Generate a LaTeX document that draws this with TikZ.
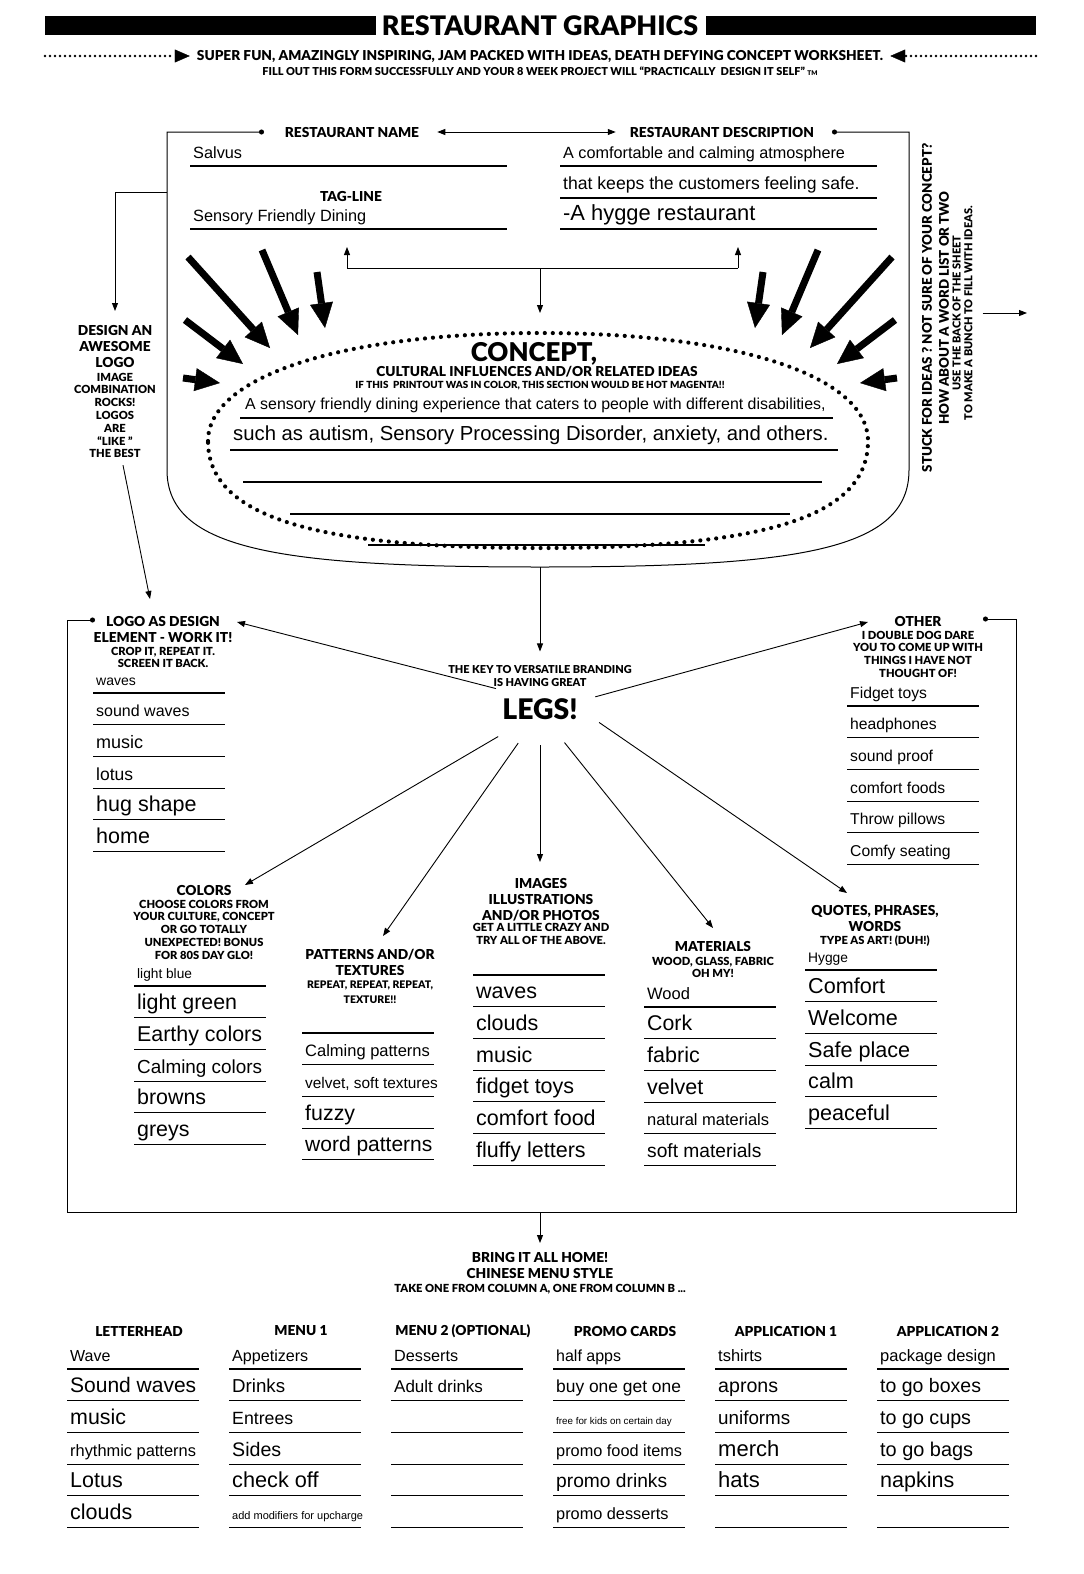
\documentclass[tikz,border=0pt]{standalone}
\usepackage{fontspec}
\setmainfont{Liberation Sans}
\newfontfamily\hdfont{Lato}[BoldFont={Lato Black},Scale=0.995]
\usetikzlibrary{arrows.meta,positioning,shapes.geometric}

% one column of fill-in lines: name, left x, first rule y, {text/size,...}
\newcommand\fillcol[4]{%
  \foreach \txt/\sz [count=\k] in {#4}{%
    \draw[rule] (#2,{#3+31.7*(\k-1)}) -- ++(132,0);
    \node[entry,font=\fontsize{\sz}{\sz}\selectfont] (#1-\k) at ({#2+3},{#3+31.7*(\k-1)-8}) {\txt};
  }}

\begin{document}
\begin{tikzpicture}[x=1pt,y=-1pt,
 hd/.style={font=\hdfont\bfseries\fontsize{13.8}{16}\selectfont,align=center,inner sep=0pt},
 sub/.style={font=\hdfont\bfseries\fontsize{11.2}{12.8}\selectfont,align=center,inner sep=0pt},
 tiny/.style={font=\hdfont\bfseries\fontsize{9.9}{11}\selectfont,align=center,inner sep=0pt},
 entry/.style={anchor=base west,inner sep=0pt},
 rule/.style={line width=1.2pt},
 arr/.style={-{Triangle[length=8pt,width=6pt]},line width=0.9pt},
 fat/.style={line width=7pt,-{Triangle[length=25pt,width=23pt,line width=0.4pt]}},
 frame/.style={{Circle[length=5pt]}-{Circle[length=5pt]},line width=1pt},
 dotarr/.style={line width=2.6pt,line cap=round,dash pattern=on 0pt off 5pt,-{Triangle[length=15pt,width=13pt,line width=0.4pt]}},
 cloudline/.style={line width=4.2pt,line cap=round,dash pattern=on 0pt off 8pt}]
\useasboundingbox (0,0) rectangle (1084,1574);
\fill[white] (0,0) rectangle (1084,1574);

% title
\fill (45,16) rectangle (376,35);
\fill (706,16) rectangle (1036,35);
\node[font=\hdfont\bfseries\fontsize{27}{29}\selectfont,inner sep=0pt] (title) at (540,26) {RESTAURANT GRAPHICS};
\node[tiny,font=\hdfont\bfseries\fontsize{13.75}{15}\selectfont] (super) at (540,56) {SUPER FUN, AMAZINGLY INSPIRING, JAM PACKED WITH IDEAS, DEATH DEFYING CONCEPT WORKSHEET.};
\coordinate (dl) at (45,56);
\coordinate (dr) at (1036,56);
\draw[dotarr] (dl) -- ([xshift=-7pt]super.west);
\draw[dotarr] (dr) -- ([xshift=7pt]super.east);
\node[tiny,font=\hdfont\bfseries\fontsize{11}{12}\selectfont] (fillout) at (540,71) {FILL OUT THIS FORM SUCCESSFULLY AND YOUR 8 WEEK PROJECT WILL “PRACTICALLY\ \ DESIGN IT SELF” {\fontsize{6.5}{6.5}\selectfont TM}};

% name / description
\node[hd] (name-h) at (352,132) {RESTAURANT NAME};
\node[hd] (desc-h) at (722,132) {RESTAURANT DESCRIPTION};
\node[hd] (tag-h) at (351,196) {TAG-LINE};
\draw[{Triangle[length=8pt,width=6pt]}-{Triangle[length=8pt,width=6pt]},line width=0.9pt,shorten <=18pt,shorten >=14pt] (name-h) -- (desc-h);
\coordinate (u-dl) at (264,132);
\coordinate (u-dr) at (832,132);
\coordinate (u-b) at (540,567);
\draw[frame] (u-dl) -- (167,132) -- (167,470) .. controls (167,550) and (280,567) .. (u-b)
  .. controls (800,567) and (909,550) .. (909,470) -- (909,132) -- (u-dr);
\node[entry,font=\fontsize{16.3}{16.3}\selectfont] (salvus) at (193,158) {Salvus};
\node[entry,font=\fontsize{16.3}{16.3}\selectfont] (tagline) at (193,221) {Sensory Friendly Dining};
\node[entry,font=\fontsize{16.2}{16.2}\selectfont] (desc-1) at (563,158) {A comfortable and calming atmosphere};
\node[entry,font=\fontsize{17.6}{17.6}\selectfont] (desc-2) at (563,189) {that keeps the customers feeling safe.};
\node[entry,font=\fontsize{21.9}{21.9}\selectfont] (desc-3) at (563,220) {-A hygge restaurant};
\draw[rule] (190,166) -- (507,166);
\draw[rule] (190,229) -- (507,229);
\draw[rule] (560,166) -- (877,166);
\draw[rule] (560,198) -- (877,198);
\draw[rule] (560,229) -- (877,229);

% bracket into the concept
\coordinate (br-l) at (347,268);
\coordinate (br-r) at (738,268);
\coordinate (br-c) at (540,268);
\coordinate (tag-up) at (347,247);
\coordinate (desc-up) at (738,247);
\coordinate (cloud-top) at (540,333);
\draw[line width=0.9pt] (br-l) -- (br-r);
\draw[arr] (br-l) -- (tag-up);
\draw[arr] (br-r) -- (desc-up);
\draw[arr,shorten >=20pt] (br-c) -- (cloud-top);

% concept
\draw[cloudline] (208,441) .. controls (208,377) and (340,333) .. (cloud-top)
  .. controls (740,333) and (868,377) .. (868,441)
  .. controls (868,516) and (768,548) .. (540,548)
  .. controls (312,548) and (208,516) .. (208,441) -- cycle;
\foreach \a/\b in {{188,257}/{270,348},{262,250}/{298,335},{317,272}/{325,328},{185,320}/{243,364},{183,378}/{220,383},
  {892,257}/{810,348},{818,250}/{782,335},{763,272}/{755,328},{895,320}/{837,364},{897,378}/{860,383}}
  \draw[fat] (\a) -- (\b);
\node[font=\hdfont\bfseries\fontsize{26}{28}\selectfont,inner sep=0pt] (concept-h) at (534,354) {CONCEPT,};
\node[hd,font=\hdfont\bfseries\fontsize{13.75}{15}\selectfont] (concept-s) at (537,372) {CULTURAL INFLUENCES AND/OR RELATED IDEAS};
\node[tiny] (concept-t) at (540,386) {IF THIS\ \ PRINTOUT WAS IN COLOR, THIS SECTION WOULD BE HOT MAGENTA!!};
\node[entry,font=\fontsize{15.9}{15.9}\selectfont] (concept-1) at (245,409) {A sensory friendly dining experience that caters to people with different disabilities,};
\node[entry,font=\fontsize{20.3}{20.3}\selectfont] (concept-2) at (233,440) {such as autism, Sensory Processing Disorder, anxiety, and others.};
\draw[rule] (240,418) -- (833,418);
\draw[rule] (230,450) -- (838,450);
\draw[rule] (243,482) -- (822,482);
\draw[rule] (290,514) -- (790,514);
\draw[rule] (368,545) -- (705,545);

% logo hint
\node[hd,anchor=north] (design-h) at (115,325) {DESIGN AN\\AWESOME\\LOGO};
\node[sub,below=5pt of design-h] (design-s) {IMAGE\\COMBINATION\\ROCKS!\\LOGOS\\ARE\\“LIKE ”\\THE BEST};
\coordinate (u-l) at (167,192);
\draw[arr,shorten >=14pt] (u-l) -| (design-h.north);

% stuck for ideas
\node[hd,rotate=90,font=\hdfont\bfseries\fontsize{13.4}{17}\selectfont] (stuck-a) at (935.5,308) {STUCK FOR IDEAS ? NOT SURE OF YOUR CONCEPT?\\HOW ABOUT A WORD LIST OR TWO};
\node[sub,rotate=90,font=\hdfont\bfseries\fontsize{11}{11.8}\selectfont] (stuck-b) at (962.5,313) {USE THE BACK OF THE SHEET\\TO MAKE A BUNCH TO FILL WITH IDEAS.};
\coordinate (stuck-out) at (1027,313);
\draw[arr,shorten <=10pt] (stuck-b.south) -- (stuck-out);

% legs
\node[sub,font=\hdfont\bfseries\fontsize{11}{12.5}\selectfont] (key) at (540,676) {THE KEY TO VERSATILE BRANDING\\IS HAVING GREAT};
\node[font=\hdfont\bfseries\fontsize{28.5}{30}\selectfont,inner sep=0pt] (legs) at (540,709) {LEGS!};
\draw[arr,shorten >=14pt] (u-b) -- (key);
\node[ellipse,minimum width=124pt,minimum height=66pt,inner sep=0pt] (hub) at (540,712) {};
\foreach \n/\p in {logo/{237,622},other/{868,622},colors/{245,885},patterns/{383,936},images/{540,862},materials/{713,928},quotes/{847,893}}
  \coordinate (to-\n) at (\p);
\draw[arr] (hub.152) -- (to-logo);
\draw[arr] (hub) -- (to-other);
\draw[arr] (hub) -- (to-colors);
\draw[arr] (hub) -- (to-patterns);
\draw[arr] (hub) -- (to-images);
\draw[arr] (hub) -- (to-materials);
\draw[arr] (hub.-10) -- (to-quotes);

% frame round the legs
\coordinate (f-dl) at (95,620);
\coordinate (f-dr) at (983,619);
\coordinate (f-b) at (540,1212);
\draw[frame] (f-dl) -- (67,620) -- (67,1212) -- (1016,1212) -- (1016,619) -- (f-dr);

\node[hd,anchor=north] (logo-h) at (163,616) {LOGO AS DESIGN\\ELEMENT - WORK IT!};
\node[sub,below=4pt of logo-h] (logo-s) {CROP IT, REPEAT IT.\\SCREEN IT BACK.};
\draw[arr] ([xshift=8pt,yshift=-7pt]design-s.south) -- ([xshift=-13pt,yshift=17pt]logo-h.north);
\fillcol{logo}{93}{693}{waves/14,sound waves/16,music/18,lotus/17.5,hug shape/21.5,home/21.5}

\node[hd,anchor=north] (other-h) at (918,616) {OTHER};
\node[sub,below=4pt of other-h] (other-s) {I DOUBLE DOG DARE\\YOU TO COME UP WITH\\THINGS I HAVE NOT\\THOUGHT OF!};
\fillcol{other}{847}{706}{Fidget toys/15.7,headphones/15.7,sound proof/15.7,comfort foods/15.7,Throw pillows/15.7,Comfy seating/15.7}

\node[hd,anchor=north] (colors-h) at (204,885) {COLORS};
\node[sub,below=4pt of colors-h] (colors-s) {CHOOSE COLORS FROM\\YOUR CULTURE, CONCEPT\\OR GO TOTALLY\\UNEXPECTED! BONUS\\FOR 80S DAY GLO!};
\fillcol{colors}{134}{986}{light blue/13.7,light green/21.4,Earthy colors/21.4,Calming colors/18.9,browns/21.4,greys/21.4}

\node[hd,anchor=north] (patterns-h) at (370,949) {PATTERNS AND/OR\\TEXTURES};
\node[sub,font=\hdfont\bfseries\fontsize{10.5}{15}\selectfont,below=5pt of patterns-h] (patterns-s) {REPEAT, REPEAT, REPEAT,\\TEXTURE!!};
\fillcol{patterns}{302}{1033}{{}/14,Calming patterns/16.5,{velvet, soft textures}/15.4,fuzzy/21.4,word patterns/21}

\node[hd,anchor=north] (images-h) at (541,878) {IMAGES\\ILLUSTRATIONS\\AND/OR PHOTOS};
\node[sub,below=2pt of images-h] (images-s) {GET A LITTLE CRAZY AND\\TRY ALL OF THE ABOVE.};
\fillcol{images}{473}{975}{{}/14,waves/21.5,clouds/21.5,music/21.5,fidget toys/21.5,comfort food/21.5,fluffy letters/21.5}

\node[hd,anchor=north] (materials-h) at (713,941) {MATERIALS};
\node[sub,below=5pt of materials-h] (materials-s) {WOOD, GLASS, FABRIC\\OH MY!};
\fillcol{materials}{644}{1007}{Wood/16.5,Cork/21.3,fabric/21.5,velvet/21.5,natural materials/16.5,soft materials/19.2}

\node[hd,anchor=north] (quotes-h) at (875,905) {QUOTES, PHRASES,\\WORDS};
\node[sub,below=4pt of quotes-h] (quotes-s) {TYPE AS ART! (DUH!)};
\fillcol{quotes}{805}{970}{Hygge/13.8,Comfort/21.6,Welcome/21.6,Safe place/21.6,calm/21.6,peaceful/21.6}

% bring it home
\node[hd,anchor=north] (home-h) at (540,1252) {BRING IT ALL HOME!\\CHINESE MENU STYLE};
\node[tiny,font=\hdfont\bfseries\fontsize{11.2}{12}\selectfont,below=5pt of home-h] (home-s) {TAKE ONE FROM COLUMN A, ONE FROM COLUMN B ...};
\draw[arr,shorten >=9pt] (f-b) -- (home-h);

\node[hd] (letter-h) at (139,1331) {LETTERHEAD};
\fillcol{letter}{67}{1369}{Wave/16,Sound waves/21,music/21.4,rhythmic patterns/16.4,Lotus/21.5,clouds/21.5}
\node[hd] (menu1-h) at (301,1331) {MENU 1};
\fillcol{menu1}{229}{1369}{Appetizers/16.1,Drinks/18.7,Entrees/17.7,Sides/19.6,check off/21.7,add modifiers for upcharge/11}
\node[hd] (menu2-h) at (463,1331) {MENU 2 (OPTIONAL)};
\fillcol{menu2}{391}{1369}{Desserts/16.2,Adult drinks/17,{}/14,{}/14,{}/14,{}/14}
\node[hd] (promo-h) at (625,1331) {PROMO CARDS};
\fillcol{promo}{553}{1369}{half apps/16,buy one get one/17.4,free for kids on certain day/9.8,promo food items/16.3,promo drinks/19.2,promo desserts/16.3}
\node[hd] (app1-h) at (786,1331) {APPLICATION 1};
\fillcol{app1}{715}{1369}{tshirts/16.5,aprons/19.6,uniforms/18.8,merch/22,hats/22,{}/14}
\node[hd] (app2-h) at (948,1331) {APPLICATION 2};
\fillcol{app2}{877}{1369}{package design/16.5,to go boxes/19.5,to go cups/19.7,to go bags/19.9,napkins/21.5,{}/14}
\end{tikzpicture}
\end{document}
